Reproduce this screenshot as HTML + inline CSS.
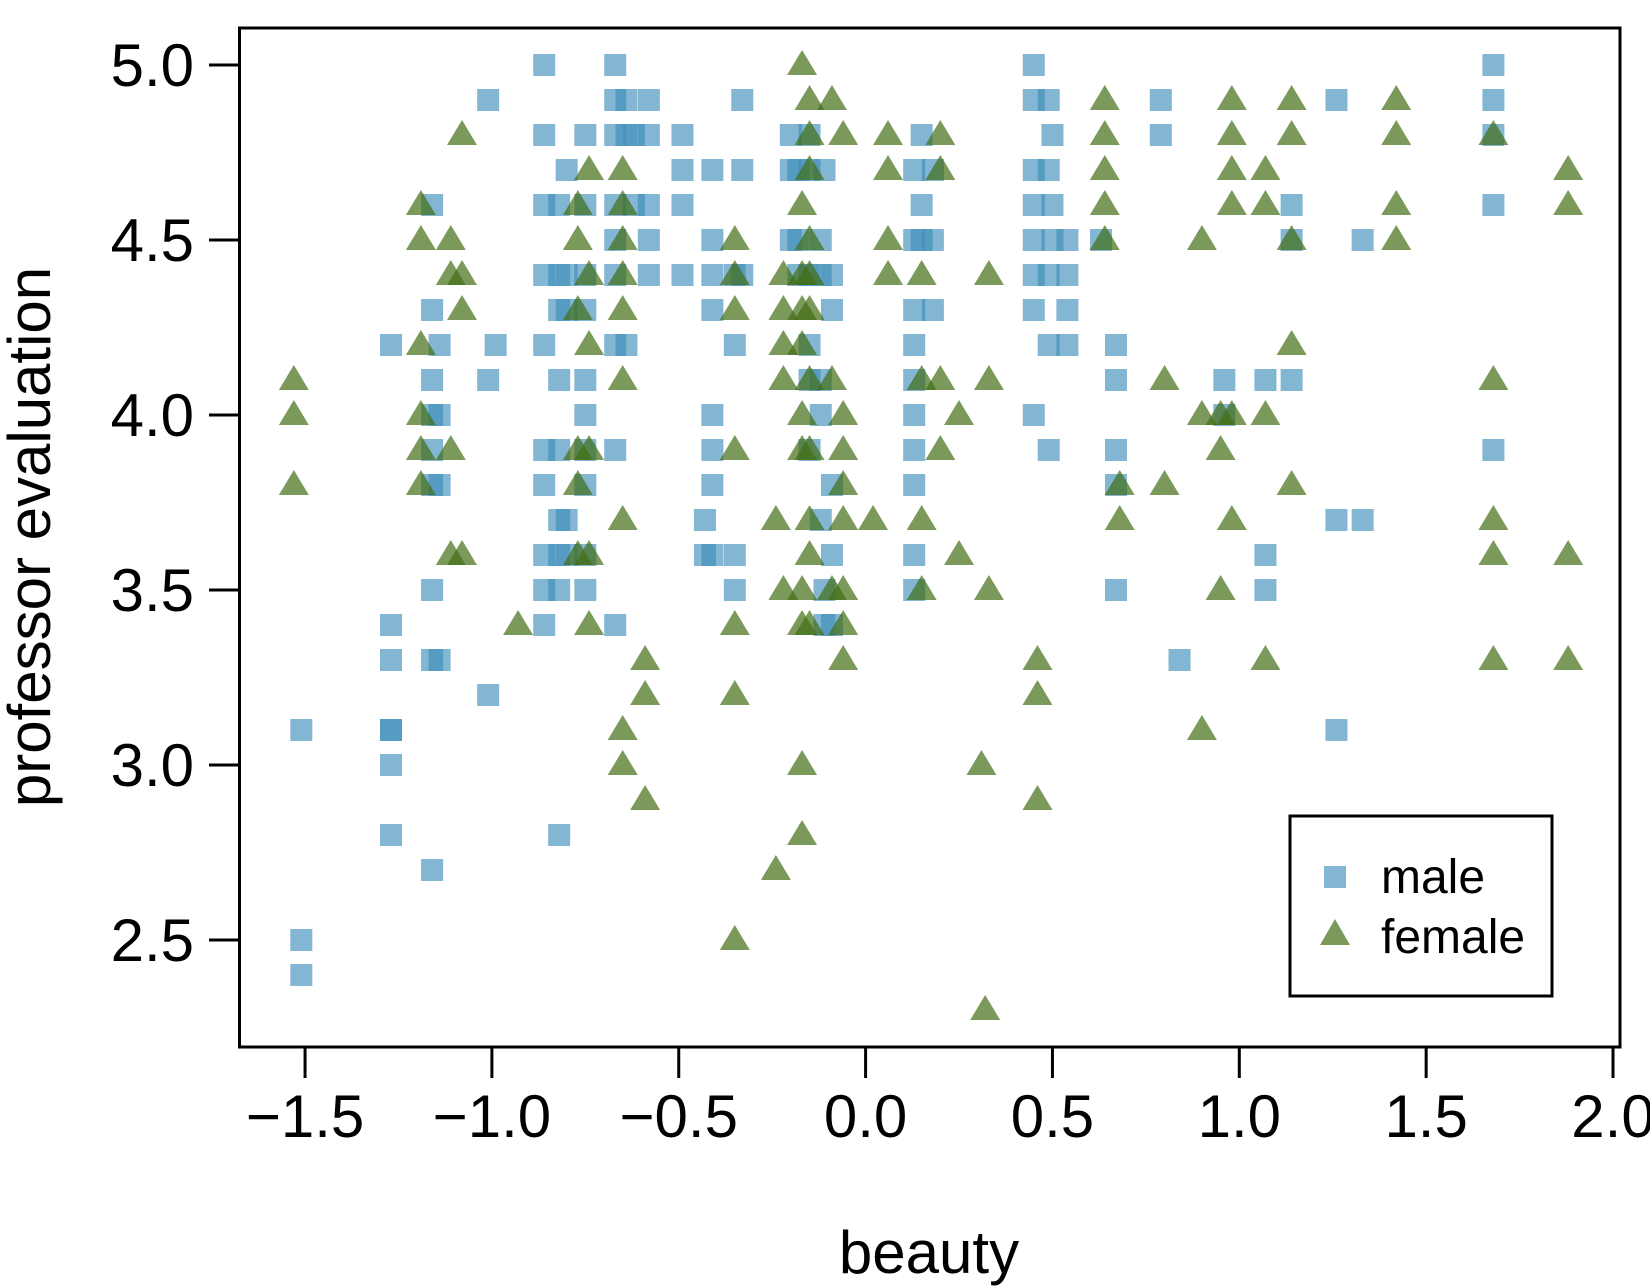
<!DOCTYPE html>
<html><head><meta charset="utf-8"><style>
html,body{margin:0;padding:0;background:#fff;}
svg{display:block;font-family:"Liberation Sans",Arial,sans-serif;}
</style></head><body>
<svg id="chart" width="1650" height="1287" viewBox="0 0 1650 1287" xmlns="http://www.w3.org/2000/svg">
<rect x="0" y="0" width="1650" height="1287" fill="#fff"/>
<g id="marks"></g>
<rect x="239.5" y="28" width="1380.5" height="1019" fill="none" stroke="#000" stroke-width="3"/>
<g id="axes"></g>
<text x="929" y="1273" font-size="60" text-anchor="middle">beauty</text>
<text transform="translate(50,537) rotate(-90)" font-size="60" text-anchor="middle">professor evaluation</text>
<g>
<rect x="1290" y="816" width="262" height="180" fill="#fff" stroke="#000" stroke-width="3"/>
<rect x="1324" y="866" width="22" height="22" fill="#3f8fba" fill-opacity="0.65"/>
<text x="1381" y="893" font-size="48">male</text>
<polygon points="1335,919 1350,945 1320,945" fill="#416e14" fill-opacity="0.7"/>
<text x="1381" y="953" font-size="48">female</text>
</g>
</svg>
<script>
const xTicks = [-1.5,-1.0,-0.5,0.0,0.5,1.0,1.5,2.0];
const xTickLabels = ["\u22121.5","\u22121.0","\u22120.5","0.0","0.5","1.0","1.5","2.0"];
const yTicks = [2.5,3.0,3.5,4.0,4.5,5.0];
const yTickLabels = ["2.5","3.0","3.5","4.0","4.5","5.0"];
// male: [beauty, evaluations...]
const maleGroups = [
[-1.51,[3.1,2.5,2.4]],
[-1.27,[4.2,3.4,3.3,3.1,3.1,3.0,2.8]],
[-1.16,[4.6,4.3,4.1,4.0,3.9,3.8,3.5,3.3,2.7]],
[-1.14,[4.2,4.0,3.8,3.3]],
[-1.01,[4.9,4.1,3.2]],
[-0.99,[4.2]],
[-0.86,[5.0,4.8,4.6,4.4,4.2,3.9,3.8,3.6,3.5,3.4]],
[-0.82,[4.6,4.4,4.3,4.1,3.9,3.7,3.6,3.5,2.8]],
[-0.80,[4.7,4.4,4.3,3.7,3.6]],
[-0.75,[4.8,4.6,4.4,4.3,4.1,4.0,3.9,3.8,3.6,3.5]],
[-0.67,[5.0,4.9,4.8,4.6,4.5,4.4,4.2,3.9,3.4]],
[-0.64,[4.9,4.8,4.2]],
[-0.62,[4.8,4.6]],
[-0.58,[4.9,4.8,4.6,4.5,4.4]],
[-0.49,[4.8,4.7,4.6,4.4]],
[-0.43,[3.7,3.6]],
[-0.41,[4.7,4.5,4.4,4.3,4.0,3.9,3.8,3.6]],
[-0.35,[4.4,4.2,3.6,3.5]],
[-0.33,[4.9,4.7,4.4]],
[-0.20,[4.8,4.7,4.5]],
[-0.18,[4.7,4.5,4.4]],
[-0.15,[4.8,4.7,4.4,4.2,4.1,3.9]],
[-0.12,[4.5,4.4,4.1,4.0,3.7]],
[-0.09,[4.4,4.3,3.8,3.6,3.4]],
[-0.11,[4.7,3.5,3.4]],
[0.13,[4.7,4.5,4.3,4.2,4.1,4.0,3.9,3.8,3.6,3.5]],
[0.15,[4.8,4.6,4.5]],
[0.18,[4.7,4.5,4.3]],
[0.45,[5.0,4.9,4.7,4.6,4.5,4.4,4.3,4.0]],
[0.49,[4.9,4.7,4.4,4.2,3.9]],
[0.50,[4.8,4.6,4.5]],
[0.54,[4.5,4.4,4.3,4.2]],
[0.63,[4.5]],
[0.67,[4.2,4.1,3.9,3.8,3.5]],
[0.79,[4.9,4.8]],
[0.84,[3.3]],
[0.96,[4.1,4.0]],
[1.07,[4.1,3.6,3.5]],
[1.14,[4.6,4.5,4.1]],
[1.26,[4.9,3.7,3.1]],
[1.33,[4.5,3.7]],
[1.68,[5.0,4.9,4.8,4.6,3.9]]
];
const femaleGroups = [
[-1.53,[4.1,4.0,3.8]],
[-1.19,[4.6,4.5,4.2,4.0,3.9,3.8]],
[-1.11,[4.5,4.4,3.9,3.6]],
[-1.08,[4.8,4.4,4.3,3.6]],
[-0.93,[3.4]],
[-0.77,[4.6,4.5,4.3,3.9,3.8,3.6]],
[-0.74,[4.7,4.4,4.2,3.9,3.6,3.4]],
[-0.65,[4.7,4.6,4.5,4.4,4.3,4.1,3.7,3.1,3.0]],
[-0.59,[3.3,3.2,2.9]],
[-0.35,[4.5,4.4,4.3,3.9,3.4,3.2,2.5]],
[-0.24,[3.7,2.7]],
[-0.22,[4.4,4.3,4.2,4.1,3.5]],
[-0.17,[5.0,4.6,4.4,4.3,4.2,4.0,3.9,3.5,3.4,3.0,2.8]],
[-0.15,[4.9,4.8,4.7,4.5,4.4,4.3,4.1,3.9,3.7,3.6,3.4]],
[-0.09,[4.9,4.1,3.5]],
[-0.06,[4.8,4.0,3.9,3.8,3.7,3.5,3.4,3.3]],
[0.02,[3.7]],
[0.06,[4.8,4.7,4.5,4.4]],
[0.15,[4.4,4.1,3.7,3.5]],
[0.20,[4.8,4.7,4.1,3.9]],
[0.25,[4.0,3.6]],
[0.33,[4.4,4.1,3.5]],
[0.31,[3.0]],
[0.32,[2.3]],
[0.46,[3.3,3.2,2.9]],
[0.64,[4.9,4.8,4.7,4.6,4.5]],
[0.68,[3.8,3.7]],
[0.80,[4.1,3.8]],
[0.90,[4.5,4.0,3.1]],
[0.95,[4.0,3.9,3.5]],
[0.98,[4.9,4.8,4.7,4.6,4.0,3.7]],
[1.07,[4.7,4.6,4.0,3.3]],
[1.14,[4.9,4.8,4.5,4.2,3.8]],
[1.42,[4.9,4.8,4.6,4.5]],
[1.68,[4.8,4.1,3.7,3.6,3.3]],
[1.88,[4.7,4.6,3.6,3.3]]
];
const NS="http://www.w3.org/2000/svg";
function xScale(v){return 865.6+v*373.7;}
function yScale(v){return 65+(5-v)*350;}
const marks=document.getElementById('marks');
const axes=document.getElementById('axes');
maleGroups.forEach(g=>{g[1].forEach(v=>{
  const r=document.createElementNS(NS,'rect');
  r.setAttribute('x',xScale(g[0])-11);r.setAttribute('y',yScale(v)-11);
  r.setAttribute('width',22);r.setAttribute('height',22);
  r.setAttribute('fill','#3f8fba');r.setAttribute('fill-opacity','0.65');
  
  
  marks.appendChild(r);
});});
femaleGroups.forEach(g=>{g[1].forEach(v=>{
  const cx=xScale(g[0]),cy=yScale(v);
  const p=document.createElementNS(NS,'polygon');
  p.setAttribute('points',`${cx},${cy-15} ${cx+15},${cy+10} ${cx-15},${cy+10}`);
  p.setAttribute('fill','#416e14');p.setAttribute('fill-opacity','0.7');
  
  
  marks.appendChild(p);
});});
xTicks.forEach((t,i)=>{
  const x=xScale(t);
  const l=document.createElementNS(NS,'line');
  l.setAttribute('x1',x);l.setAttribute('x2',x);l.setAttribute('y1',1047);l.setAttribute('y2',1078);
  l.setAttribute('stroke','#000');l.setAttribute('stroke-width',3);
  
  
  axes.appendChild(l);
  const tx=document.createElementNS(NS,'text');
  tx.setAttribute('x',x);tx.setAttribute('y',1137);tx.setAttribute('font-size',60);tx.setAttribute('text-anchor','middle');
  tx.textContent=xTickLabels[i];
  
  
  axes.appendChild(tx);
});
yTicks.forEach((t,i)=>{
  const y=yScale(t);
  const l=document.createElementNS(NS,'line');
  l.setAttribute('x1',209);l.setAttribute('x2',239);l.setAttribute('y1',y);l.setAttribute('y2',y);
  l.setAttribute('stroke','#000');l.setAttribute('stroke-width',3);
  
  
  axes.appendChild(l);
  const tx=document.createElementNS(NS,'text');
  tx.setAttribute('x',194);tx.setAttribute('y',y+21);tx.setAttribute('font-size',60);tx.setAttribute('text-anchor','end');
  tx.textContent=yTickLabels[i];
  
  
  axes.appendChild(tx);
});
</script>
</body></html>
